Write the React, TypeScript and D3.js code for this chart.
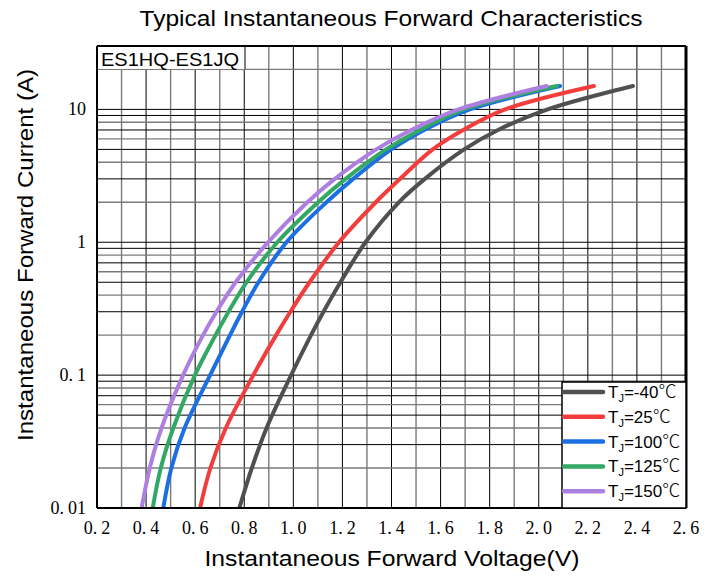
import React from 'react';
import * as d3 from 'd3';

// Forward current points (A) shared by all curves
const currents = [0.01, 0.02, 0.04, 0.1, 0.2, 0.3, 0.5, 1, 2, 3, 5, 7, 10, 15];
// Forward voltage (V) at each current, per junction temperature
const vTjMinus40 = [0.78, 0.831, 0.891, 0.991, 1.072, 1.123, 1.192, 1.294, 1.43, 1.536, 1.696, 1.834, 2.036, 2.384];
const vTj25 = [0.62, 0.662, 0.725, 0.837, 0.93, 0.988, 1.066, 1.186, 1.336, 1.435, 1.568, 1.692, 1.863, 2.225];
const vTj100 = [0.47, 0.503, 0.557, 0.661, 0.742, 0.791, 0.858, 0.972, 1.135, 1.244, 1.399, 1.533, 1.719, 2.087];
const vTj125 = [0.427, 0.46, 0.511, 0.599, 0.683, 0.736, 0.809, 0.935, 1.101, 1.213, 1.378, 1.516, 1.694, 2.073];
const vTj150 = [0.382, 0.415, 0.463, 0.551, 0.632, 0.687, 0.765, 0.897, 1.057, 1.169, 1.338, 1.48, 1.673, 2.032];

const seriesNames = ['=-40', '=25', '=100', '=125', '=150'];
const seriesVolts = [vTjMinus40, vTj25, vTj100, vTj125, vTj150];
const seriesColors = ['#505050', '#f23d3d', '#1c6fe3', '#33a865', '#ad7fe0'];

const xTickValues = [0.2, 0.4, 0.6, 0.8, 1.0, 1.2, 1.4, 1.6, 1.8, 2.0, 2.2, 2.4, 2.6];
const xTickLabels = ['0.2', '0.4', '0.6', '0.8', '1.0', '1.2', '1.4', '1.6', '1.8', '2.0', '2.2', '2.4', '2.6'];
const yTickValues = [0.01, 0.1, 1, 10];
const yTickLabels = ['0.01', '0.1', '1', '10'];

const title = 'Typical Instantaneous Forward Characteristics';
const xTitle = 'Instantaneous Forward Voltage(V)';
const yTitle = 'Instantaneous Forward Current (A)';
const partLabel = 'ES1HQ-ES1JQ';

function splitLabel(s: string) {
  const i = s.indexOf('.');
  if (i < 0) return [s, ''];
  return [s.slice(0, i + 1), s.slice(i + 1)];
}

export default function App() {
  const W = 719, H = 579;
  const left = 97, right = 686, top = 46, bottom = 508;
  const x = d3.scaleLinear().domain([0.2, 2.6]).range([left, right]);
  const y = d3.scaleLog().domain([0.01, 30]).range([bottom, top]);

  const vGrid = d3.range(2, 27).map((d) => d / 10);
  const hGrid: number[] = [];
  for (const dec of [0.01, 0.1, 1, 10]) {
    for (let k = 1; k <= 9; k++) {
      const v = dec * k;
      if (v <= 30.0001) hGrid.push(v);
    }
  }
  const hGridU = Array.from(new Set(hGrid.map((v) => +v.toPrecision(3))));

  const line = d3
    .line<[number, number]>()
    .x((d) => x(d[0]))
    .y((d) => y(d[1]))
    .curve(d3.curveCatmullRom.alpha(0.5));

  const serif = '"Liberation Serif", "DejaVu Serif", serif';
  const sans = '"Liberation Sans", Arial, sans-serif';
  const cjk = '"Noto Sans CJK SC", sans-serif';

  const legX = 562, legY = 382, legW = right - 562, legH = bottom - 382;

  return (
    <svg width={W} height={H} style={{ position: 'absolute', left: 0, top: 0, background: '#fff' }}>
      <defs>
        <clipPath id="plotclip">
          <rect x={left} y={top} width={right - left} height={bottom - top} />
        </clipPath>
      </defs>
      <rect x={0} y={0} width={W} height={H} fill="#fff" />
      {/* grid */}
      {vGrid.map((v, i) => {
        const dark = Math.round(v * 10) % 2 === 0;
        return (
          <line
            key={'v' + i}
            x1={x(v)}
            x2={x(v)}
            y1={top}
            y2={bottom}
            stroke={dark ? '#000' : '#7a7a7a'}
            strokeWidth={dark ? 1 : 1.4}
          />
        );
      })}
      {hGridU.map((v, i) => {
        const k = Math.round(v / Math.pow(10, Math.floor(Math.log10(v) + 1e-9)));
        const dark = k % 2 === 1;
        return (
          <line
            key={'h' + i}
            x1={left}
            x2={right}
            y1={y(v)}
            y2={y(v)}
            stroke={dark ? '#000' : '#7a7a7a'}
            strokeWidth={dark ? 1 : 1.4}
          />
        );
      })}
      {/* part label box */}
      <rect x={left} y={top} width={245 - left} height={69 - top} fill="#fff" stroke="none" />
      <line x1={245} x2={245} y1={top} y2={69} stroke="#000" strokeWidth={1} />
      <text x={101} y={66} fontFamily={sans} fontSize={18} fill="#000" textLength={138} lengthAdjust="spacingAndGlyphs">
        {partLabel}
      </text>
      {/* curves */}
      <g clipPath="url(#plotclip)">
        {seriesVolts.map((vs, si) => (
          <path
            key={'s' + si}
            d={line(vs.map((v, j) => [v, currents[j]] as [number, number])) || ''}
            fill="none"
            stroke={seriesColors[si]}
            strokeWidth={4}
            strokeLinecap="round"
            strokeLinejoin="round"
          />
        ))}
      </g>
      {/* frame */}
      <line x1={left} x2={left} y1={top} y2={bottom} stroke="#000" strokeWidth={2} />
      <line x1={left} x2={right} y1={bottom} y2={bottom} stroke="#000" strokeWidth={2} />
      <line x1={left} x2={right} y1={top} y2={top} stroke="#000" strokeWidth={2} />
      <line x1={right} x2={right} y1={top} y2={bottom} stroke="#000" strokeWidth={3} />
      {/* legend */}
      <rect x={legX} y={legY} width={legW} height={legH} fill="#fff" stroke="#000" strokeWidth={1.5} />
      {seriesNames.map((n, i) => {
        const ly = 392 + i * 24.8;
        return (
          <g key={'l' + i}>
            <line x1={564} x2={603} y1={ly} y2={ly} stroke={seriesColors[i]} strokeWidth={4.5} strokeLinecap="round" />
            <text x={608} y={ly + 6} fontFamily={sans} fontSize={17} fill="#000">
              T
              <tspan fontSize={11} dy={4}>J</tspan>
              <tspan dy={-4}>{n}</tspan>
              <tspan fontFamily={cjk} fontSize={18} fontWeight={300}>℃</tspan>
            </text>
          </g>
        );
      })}
      {/* y ticks */}
      {yTickValues.map((v, i) => {
        const [a, b] = splitLabel(yTickLabels[i]);
        return (
          <text key={'yt' + i} x={86} y={y(v) + 6} textAnchor="end" fontFamily={serif} fontSize={18} fill="#000">
            {a}
            {b && <tspan dx={4}>{b}</tspan>}
          </text>
        );
      })}
      {/* x ticks */}
      {xTickValues.map((v, i) => {
        const [a, b] = splitLabel(xTickLabels[i]);
        return (
          <text key={'xt' + i} x={x(v)} y={534} textAnchor="middle" fontFamily={serif} fontSize={18} fill="#000">
            {a}
            {b && <tspan dx={4}>{b}</tspan>}
          </text>
        );
      })}
      {/* titles */}
      <text x={391} y={26} textAnchor="middle" fontFamily={sans} fontSize={22} fill="#000" textLength={503} lengthAdjust="spacingAndGlyphs">
        {title}
      </text>
      <text x={392} y={566} textAnchor="middle" fontFamily={sans} fontSize={22} fill="#000" textLength={375} lengthAdjust="spacingAndGlyphs">
        {xTitle}
      </text>
      <text
        transform={`translate(33, ${255}) rotate(-90)`}
        textAnchor="middle"
        fontFamily={sans}
        fontSize={22}
        fill="#000"
        textLength={372}
        lengthAdjust="spacingAndGlyphs"
      >
        {yTitle}
      </text>
    </svg>
  );
}
